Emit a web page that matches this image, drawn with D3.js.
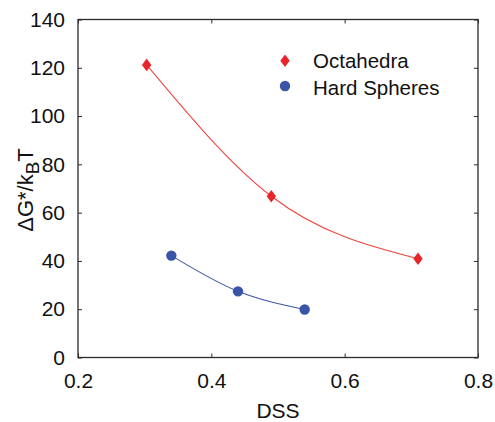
<!DOCTYPE html>
<html><head><meta charset="utf-8">
<script src="https://cdn.jsdelivr.net/npm/d3@7"></script>
<style>html,body{margin:0;padding:0;background:#fff;}svg{display:block;font-family:"Liberation Sans",Arial,sans-serif;}</style>
</head><body>
<svg id="chart" width="495" height="422"></svg>
<script>
const octaDSS = [0.303, 0.49, 0.71];
const octaG = [121.2, 66.8, 40.9];
const hsDSS = [0.34, 0.44, 0.54];
const hsG = [42.2, 27.4, 19.9];
const xTicks = [0.2, 0.4, 0.6, 0.8];
const yTicks = [0, 20, 40, 60, 80, 100, 120, 140];
const seriesNames = ["Octahedra", "Hard Spheres"];

const W = 495, H = 422;
const m = {left: 78, right: 17, top: 19.5, bottom: 64.5};
const svg = d3.select("#chart");
const x = d3.scaleLinear().domain([0.2, 0.8]).range([m.left, W - m.right]);
const y = d3.scaleLinear().domain([0, 140]).range([H - m.bottom, m.top]);
const axisColor = "#2b2b2b";

// ticks inward, mirrored
function styleAxis(g) {
  g.select(".domain").remove();
  g.selectAll("line").attr("stroke", axisColor).attr("stroke-width", 1);
  g.selectAll("text").attr("fill", "#111").style("font-size", "21px");
}
svg.append("g").attr("transform", `translate(0,${y(0)})`)
  .call(d3.axisBottom(x).tickValues(xTicks).tickFormat(d3.format(".1f")).tickSizeInner(-4).tickSizeOuter(0).tickPadding(16))
  .call(styleAxis);
svg.append("g").attr("transform", `translate(0,${y(140)})`)
  .call(d3.axisTop(x).tickValues(xTicks).tickFormat("").tickSizeInner(-4).tickSizeOuter(0))
  .call(styleAxis);
svg.append("g").attr("transform", `translate(${x(0.2)},0)`)
  .call(d3.axisLeft(y).tickValues(yTicks).tickSizeInner(-4).tickSizeOuter(0).tickPadding(13))
  .call(styleAxis);
svg.append("g").attr("transform", `translate(${x(0.8)},0)`)
  .call(d3.axisRight(y).tickValues(yTicks).tickFormat("").tickSizeInner(-4).tickSizeOuter(0))
  .call(styleAxis);

svg.append("rect").attr("x", x(0.2)).attr("y", y(140))
  .attr("width", x(0.8) - x(0.2)).attr("height", y(0) - y(140))
  .attr("fill", "none").attr("stroke", axisColor).attr("stroke-width", 1.3);

// curves
const line = d3.line().x(d => x(d[0])).y(d => y(d[1])).curve(d3.curveMonotoneX);
const octa = octaDSS.map((d, i) => [d, octaG[i]]);
const hs = hsDSS.map((d, i) => [d, hsG[i]]);
svg.append("path").attr("d", line(octa)).attr("fill", "none").attr("stroke", "#f0463f").attr("stroke-width", 1.1);
svg.append("path").attr("d", line(hs)).attr("fill", "none").attr("stroke", "#3e56a6").attr("stroke-width", 1.1);

const red = "#e8252b", blue = "#3a55a7";
const diamond = "M0,-6.3L4.7,0L0,6.3L-4.7,0Z";
svg.selectAll(".octa").data(octa).join("path")
  .attr("d", diamond).attr("transform", d => `translate(${x(d[0])},${y(d[1])})`).attr("fill", red);
svg.selectAll(".hs").data(hs).join("circle")
  .attr("cx", d => x(d[0])).attr("cy", d => y(d[1])).attr("r", 5.2).attr("fill", blue);

// legend
const lg = svg.append("g");
lg.append("path").attr("d", diamond).attr("transform", "translate(285,60.7)").attr("fill", red);
lg.append("circle").attr("cx", 285).attr("cy", 86).attr("r", 5.2).attr("fill", blue);
lg.append("text").attr("x", 313).attr("y", 68.3).text(seriesNames[0]).style("font-size", "20.5px").attr("fill", "#111");
lg.append("text").attr("x", 313).attr("y", 95).text(seriesNames[1]).style("font-size", "20.5px").attr("fill", "#111");

// axis labels
svg.append("text").attr("x", (x(0.2) + x(0.8)) / 2).attr("y", 418).attr("text-anchor", "middle")
  .style("font-size", "21px").attr("fill", "#111").text("DSS");
const yl = svg.append("text").attr("transform", "translate(33,190) rotate(-90)").attr("text-anchor", "middle")
  .style("font-size", "22px").attr("fill", "#111");
yl.append("tspan").text("ΔG*/k");
yl.append("tspan").attr("dy", 6).style("font-size", "19px").text("B");
yl.append("tspan").attr("dy", -6).text("T");
</script>
</body></html>
